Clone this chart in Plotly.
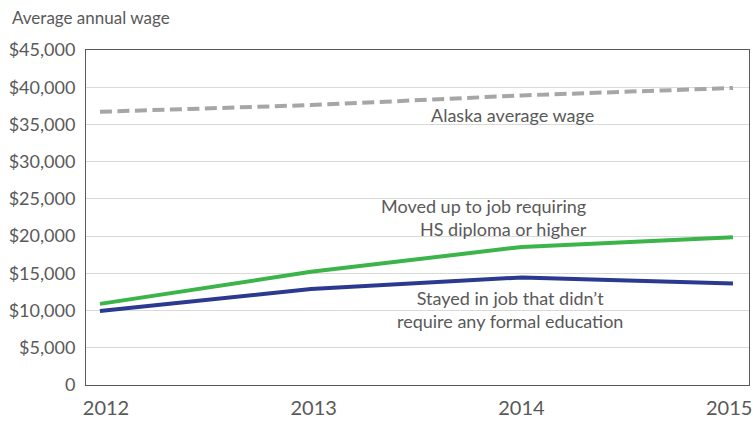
import plotly.graph_objects as go

years = [2012, 2013, 2014, 2015]
alaska_avg = [36700, 37600, 38900, 39900]
moved_up = [10900, 15200, 18550, 19850]
stayed = [9950, 12900, 14450, 13650]
year_labels = ["2012", "2013", "2014", "2015"]
y_ticks = [0, 5000, 10000, 15000, 20000, 25000, 30000, 35000, 40000, 45000]
y_tick_labels = ["0", "$5,000", "$10,000", "$15,000", "$20,000", "$25,000",
                 "$30,000", "$35,000", "$40,000", "$45,000"]

FONT = "Lato"
TXT = "#595959"
AXC = "#595959"
AFS = 18

fig = go.Figure()
fig.add_trace(go.Scatter(x=years, y=alaska_avg, mode="lines",
                         line=dict(color="#A6A6A6", width=4, dash="12px,5.5px"),
                         name="Alaska average wage"))
fig.add_trace(go.Scatter(x=years, y=moved_up, mode="lines",
                         line=dict(color="#3BB54A", width=4),
                         name="Moved up"))
fig.add_trace(go.Scatter(x=years, y=stayed, mode="lines",
                         line=dict(color="#2B3990", width=4),
                         name="Stayed"))
# invisible carrier trace for the year-label axis
fig.add_trace(go.Scatter(x=years, y=stayed, xaxis="x2", mode="lines",
                         line=dict(width=0), opacity=0, hoverinfo="skip", showlegend=False))

def note(x, y, text, xanchor, align):
    fig.add_annotation(x=x, y=y, text=text, showarrow=False, xanchor=xanchor, align=align,
                       yanchor="middle", font=dict(family=FONT, size=AFS, color=TXT))

note(2013.957, 36270, "Alaska average wage", "center", "center")
note(2014.318, 22500, "Moved up to job requiring<br>HS diploma or higher", "right", "right")
note(2013.943, 10150, "Stayed in job that didn\u2019t<br>require any formal education", "center", "center")

fig.add_annotation(x=0, y=1, xref="paper", yref="paper", xshift=-76, yshift=33,
                   text="Average annual wage", showarrow=False, xanchor="left", yanchor="middle",
                   font=dict(family=FONT, size=17, color=TXT))

fig.update_layout(
    width=753, height=425,
    margin=dict(l=86, r=4, t=50, b=40),
    paper_bgcolor="white", plot_bgcolor="white",
    showlegend=False,
    font=dict(family=FONT, color=TXT),
    xaxis=dict(range=[2011.934, 2015.076], tickvals=years, showticklabels=False,
               showgrid=False, zeroline=False, showline=True, linecolor=AXC, linewidth=1,
               mirror=True, ticks="", fixedrange=True, automargin=False),
    xaxis2=dict(overlaying="x", side="bottom", range=[2011.9038, 2015.0953],
                tickvals=years, ticktext=year_labels, showgrid=False, zeroline=False,
                showline=False, ticks="", tickfont=dict(size=20, color=TXT), fixedrange=True,
                ticklabelstandoff=9, automargin=False, ticklabeloverflow="allow"),
    yaxis=dict(range=[0, 45000], tickvals=y_ticks, ticktext=y_tick_labels,
               showgrid=True, gridcolor="#D9D9D9", gridwidth=1, zeroline=False,
               showline=True, linecolor=AXC, linewidth=1, mirror=True, ticks="",
               ticklabelstandoff=6, tickfont=dict(size=18, color=TXT), fixedrange=True,
               automargin=False, ticklabeloverflow="allow"),
)

fig.write_html("out.html", config={"displayModeBar": False},
               post_script="document.body.style.margin='0';document.body.style.overflow='hidden';")
